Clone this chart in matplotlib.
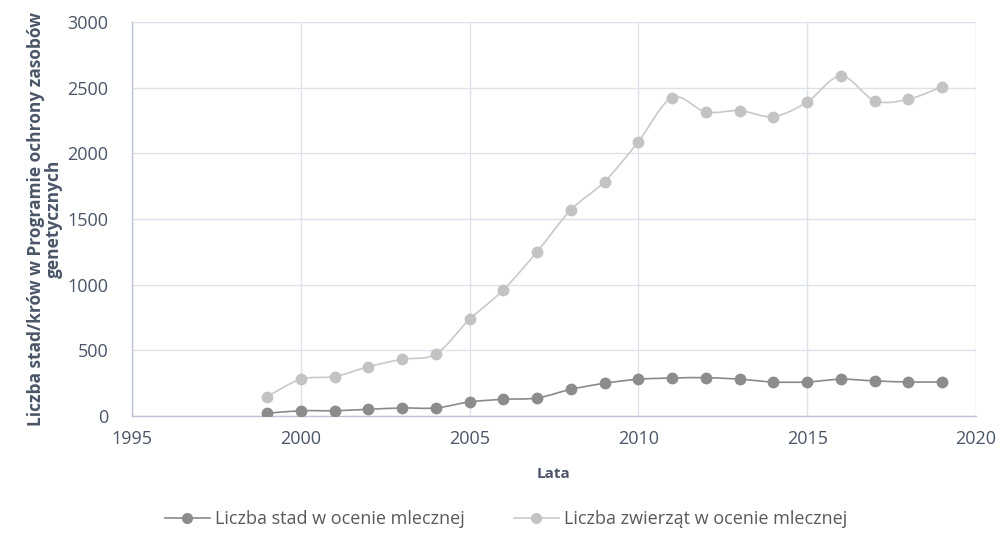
import numpy as np
import matplotlib.pyplot as plt
from matplotlib.path import Path
from matplotlib.patches import PathPatch
from matplotlib.lines import Line2D

plt.rcParams['font.family'] = ['Open Sans', 'DejaVu Sans']

# Data
years = list(range(1999, 2020))
herds = [20, 40, 40, 51, 61, 61, 107, 127, 137, 203, 249,
         280, 289, 292, 280, 259, 259, 280, 267, 259, 259]
animals = [147, 280, 300, 375, 432, 472, 736, 960, 1251, 1569, 1785,
           2089, 2424, 2315, 2325, 2280, 2391, 2589, 2401, 2412, 2508]

labels = ['Liczba stad w ocenie mlecznej', 'Liczba zwierząt w ocenie mlecznej']
line_colors = ['#8a8a8a', '#c9c9c9']
marker_colors = ['#8c8c8c', '#c3c3c3']
text_color = '#595959'
tick_color = '#4a5568'
grid_color = '#dde1ea'


def smooth_path(x, y):
    # Excel-like smoothed line: Catmull-Rom segments as cubic Bezier
    x = np.asarray(x, float)
    y = np.asarray(y, float)
    verts = [(x[0], y[0])]
    codes = [Path.MOVETO]
    n = len(x)
    for i in range(n - 1):
        x0, y0 = (x[i - 1], y[i - 1]) if i > 0 else (x[i], y[i])
        x3, y3 = (x[i + 2], y[i + 2]) if i + 2 < n else (x[i + 1], y[i + 1])
        c1 = (x[i] + (x[i + 1] - x0) / 6, y[i] + (y[i + 1] - y0) / 6)
        c2 = (x[i + 1] - (x3 - x[i]) / 6, y[i + 1] - (y3 - y[i]) / 6)
        verts += [c1, c2, (x[i + 1], y[i + 1])]
        codes += [Path.CURVE4] * 3
    return Path(verts, codes)


fig = plt.figure(figsize=(10, 5.47), dpi=100)
ax = fig.add_axes([0.132, 0.2395, 0.844, 0.7203])

for vals, lc, mc in zip([herds, animals], line_colors, marker_colors):
    ax.add_patch(PathPatch(smooth_path(years, vals), fill=False,
                           edgecolor=lc, linewidth=1.2, zorder=3))
    ax.plot(years, vals, linestyle='none', marker='o', markersize=8.5,
            color=mc, markeredgewidth=0, zorder=4)

ax.set_xlim(1995, 2020)
ax.set_ylim(0, 3000)
ax.set_xticks(range(1995, 2021, 5))
ax.set_yticks(range(0, 3001, 500))
ax.grid(True, color=grid_color, linewidth=1)
ax.set_axisbelow(True)

for side in ['top', 'right']:
    ax.spines[side].set_visible(False)
for side in ['left', 'bottom']:
    ax.spines[side].set_color('#bcc4d6')
    ax.spines[side].set_linewidth(1)

ax.tick_params(axis='both', length=0, labelsize=13, labelcolor=tick_color)
ax.tick_params(axis='x', pad=10)
ax.tick_params(axis='y', pad=17)

ax.set_xlabel('Lata', fontsize=11, fontweight='bold', color=tick_color, labelpad=14)
ax.set_ylabel('Liczba stad/krów w Programie ochrony zasobów\ngenetycznych',
              fontsize=12.5, fontweight='bold', color=tick_color, labelpad=3,
              linespacing=1.0)

handles = [Line2D([], [], color=lc, marker='o', markersize=8, markerfacecolor=mc,
                  markeredgewidth=0, linewidth=1.2)
           for lc, mc in zip(line_colors, marker_colors)]
fig.legend(handles, labels, loc='center', bbox_to_anchor=(0.506, 0.051), ncol=2,
           frameon=False, fontsize=13, labelcolor=text_color,
           handlelength=2.5, handletextpad=0.3, columnspacing=2.7)

fig.savefig('out.png', dpi=100)
